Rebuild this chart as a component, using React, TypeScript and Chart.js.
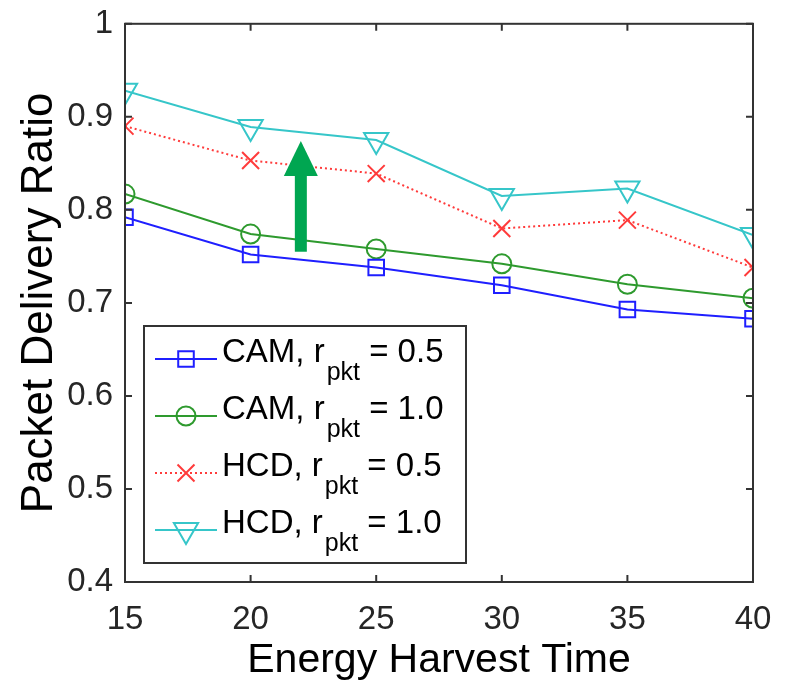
import React, { useEffect, useRef } from 'react';
import { Chart, registerables } from 'chart.js';
Chart.register(...registerables);

const harvestTimes = [15, 20, 25, 30, 35, 40];
const camHalf = [0.792, 0.752, 0.738, 0.719, 0.693, 0.683];
const camFull = [0.817, 0.774, 0.758, 0.742, 0.72, 0.705];
const hcdHalf = [0.89, 0.853, 0.839, 0.78, 0.789, 0.738];
const hcdFull = [0.928, 0.889, 0.875, 0.815, 0.823, 0.773];
const xTicks = [15, 20, 25, 30, 35, 40];
const yTicks = [0.4, 0.5, 0.6, 0.7, 0.8, 0.9, 1];
const legendMain = ['CAM, r', 'CAM, r', 'HCD, r', 'HCD, r'];
const legendSub = 'pkt';
const legendTail = [' = 0.5', ' = 1.0', ' = 0.5', ' = 1.0'];
const arrowX = 22;
const arrowFrom = 0.755;
const arrowTo = 0.874;

const FONT = 'Liberation Sans, Arial, Helvetica, sans-serif';
const AXIS = '#333333';

function drawMarker(ctx: CanvasRenderingContext2D, style: string, x: number, y: number, r: number, rot: number) {
  ctx.beginPath();
  if (style === 'rect') {
    const s = Math.SQRT1_2 * r;
    ctx.rect(x - s, y - s, 2 * s, 2 * s);
  } else if (style === 'circle') {
    ctx.arc(x, y, r, 0, Math.PI * 2);
  } else if (style === 'crossRot') {
    const s = Math.SQRT1_2 * r;
    ctx.moveTo(x - s, y - s); ctx.lineTo(x + s, y + s);
    ctx.moveTo(x - s, y + s); ctx.lineTo(x + s, y - s);
  } else if (style === 'triangle') {
    let rad = (rot * Math.PI) / 180;
    ctx.moveTo(x + Math.sin(rad) * r, y - Math.cos(rad) * r);
    rad += (2 * Math.PI) / 3;
    ctx.lineTo(x + Math.sin(rad) * r, y - Math.cos(rad) * r);
    rad += (2 * Math.PI) / 3;
    ctx.lineTo(x + Math.sin(rad) * r, y - Math.cos(rad) * r);
    ctx.closePath();
  }
  ctx.stroke();
}

const overlay = {
  id: 'overlay',
  afterDraw(chart: any) {
    const ctx = chart.ctx as CanvasRenderingContext2D;
    const { left, right, top, bottom } = chart.chartArea;
    const xs = chart.scales.x;
    const ys = chart.scales.y;
    ctx.save();
    // box
    ctx.strokeStyle = AXIS;
    ctx.lineWidth = 2;
    ctx.strokeRect(left, top, right - left, bottom - top);
    const tl = 7;
    ctx.beginPath();
    xTicks.forEach((v) => {
      const px = xs.getPixelForValue(v);
      ctx.moveTo(px, bottom); ctx.lineTo(px, bottom - tl);
      ctx.moveTo(px, top); ctx.lineTo(px, top + tl);
    });
    yTicks.forEach((v) => {
      const py = ys.getPixelForValue(v);
      ctx.moveTo(left, py); ctx.lineTo(left + tl, py);
      ctx.moveTo(right, py); ctx.lineTo(right - tl, py);
    });
    ctx.stroke();

    // arrow
    const ax = xs.getPixelForValue(arrowX);
    const ay0 = ys.getPixelForValue(arrowFrom);
    const ay1 = ys.getPixelForValue(arrowTo);
    ctx.fillStyle = '#00a651';
    const headH = 35;
    ctx.fillRect(ax - 6, ay1 + headH - 1, 12, ay0 - ay1 - headH + 1);
    ctx.beginPath();
    ctx.moveTo(ax, ay1);
    ctx.lineTo(ax - 17, ay1 + headH);
    ctx.lineTo(ax + 17, ay1 + headH);
    ctx.closePath();
    ctx.fill();

    // legend
    const bx = 144, by = 326, bw = 322, bh = 237;
    ctx.fillStyle = '#ffffff';
    ctx.fillRect(bx, by, bw, bh);
    ctx.strokeStyle = AXIS;
    ctx.lineWidth = 2;
    ctx.strokeRect(bx, by, bw, bh);
    chart.data.datasets.forEach((ds: any, i: number) => {
      const cy = by + 33 + i * 57;
      ctx.strokeStyle = ds.borderColor;
      ctx.lineWidth = ds.borderWidth;
      ctx.setLineDash(ds.borderDash || []);
      ctx.beginPath();
      ctx.moveTo(bx + 11, cy);
      ctx.lineTo(bx + 73, cy);
      ctx.stroke();
      ctx.setLineDash([]);
      ctx.lineWidth = ds.pointBorderWidth;
      drawMarker(ctx, ds.pointStyle, bx + 42, cy, ds.pointRadius, ds.pointRotation || 0);
      ctx.fillStyle = '#000000';
      ctx.textBaseline = 'alphabetic';
      ctx.textAlign = 'left';
      ctx.font = `33px ${FONT}`;
      const tx = bx + 78;
      const base = cy + 3;
      ctx.fillText(legendMain[i], tx, base);
      const w1 = ctx.measureText(legendMain[i]).width;
      ctx.font = `25px ${FONT}`;
      ctx.fillText(legendSub, tx + w1 + 2, base + 18);
      const w2 = ctx.measureText(legendSub).width;
      ctx.font = `33px ${FONT}`;
      ctx.fillText(legendTail[i], tx + w1 + w2 + 2, base);
    });
    ctx.restore();
  },
};

export default function App() {
  const ref = useRef<HTMLCanvasElement | null>(null);
  useEffect(() => {
    if (!ref.current) return;
    const mk = (data: number[]) => harvestTimes.map((x, i) => ({ x, y: data[i] }));
    const chart = new Chart(ref.current, {
      type: 'line',
      data: {
        datasets: [
          { label: 'CAM, r_pkt = 0.5', data: mk(camHalf), borderColor: '#1f1fff', borderWidth: 2, pointStyle: 'rect', pointRadius: 11, pointBorderWidth: 2, pointBackgroundColor: 'rgba(0,0,0,0)', pointBorderColor: '#1f1fff', backgroundColor: 'rgba(0,0,0,0)' } as any,
          { label: 'CAM, r_pkt = 1.0', data: mk(camFull), borderColor: '#2e9a2e', borderWidth: 2, pointStyle: 'circle', pointRadius: 9.5, pointBorderWidth: 2, pointBackgroundColor: 'rgba(0,0,0,0)', pointBorderColor: '#2e9a2e', backgroundColor: 'rgba(0,0,0,0)' } as any,
          { label: 'HCD, r_pkt = 0.5', data: mk(hcdHalf), borderColor: '#ff3b3b', borderWidth: 2, borderDash: [2, 3], pointStyle: 'crossRot', pointRadius: 12, pointBorderWidth: 2, pointBackgroundColor: 'rgba(0,0,0,0)', pointBorderColor: '#ff3b3b', backgroundColor: 'rgba(0,0,0,0)' } as any,
          { label: 'HCD, r_pkt = 1.0', data: mk(hcdFull), borderColor: '#36c6c9', borderWidth: 2, pointStyle: 'triangle', pointRotation: 180, pointRadius: 14, pointBorderWidth: 2, pointBackgroundColor: 'rgba(0,0,0,0)', pointBorderColor: '#36c6c9', backgroundColor: 'rgba(0,0,0,0)' } as any,
        ],
      },
      options: {
        animation: false,
        responsive: false,
        layout: { padding: { top: -10, right: 35, left: 0, bottom: 0 } },
        plugins: { legend: { display: false }, tooltip: { enabled: false } },
        elements: { line: { tension: 0 } },
        scales: {
          x: {
            type: 'linear',
            min: 15,
            max: 40,
            afterBuildTicks: (s: any) => { s.ticks = xTicks.map((v) => ({ value: v })); },
            afterFit: (s: any) => { s.height = 100; },
            grid: { display: false },
            border: { display: false },
            ticks: { color: '#262626', font: { family: FONT, size: 33 }, padding: 10, maxRotation: 0 },
            title: { display: true, text: 'Energy Harvest Time', color: '#000', font: { family: FONT, size: 41, lineHeight: 1 }, padding: 1 },
          },
          y: {
            type: 'linear',
            min: 0.4,
            max: 1,
            afterBuildTicks: (s: any) => { s.ticks = yTicks.map((v) => ({ value: v })); },
            afterFit: (s: any) => { s.width = 125; },
            grid: { display: false },
            border: { display: false },
            ticks: {
              color: '#262626',
              font: { family: FONT, size: 33 },
              padding: 4,
              callback: (v: any) => (Number(v) === 1 ? '1' : Number(v).toFixed(1)),
            },
            title: { display: true, text: 'Packet Delivery Ratio', color: '#000', font: { family: FONT, size: 44, lineHeight: 1 }, padding: 18 },
          },
        },
      },
      plugins: [overlay],
    } as any);
    return () => chart.destroy();
  }, []);
  return (
    <div style={{ position: 'absolute', left: 0, top: 0, width: 788, height: 682, background: '#fff' }}>
      <canvas ref={ref} width={788} height={682} />
    </div>
  );
}
